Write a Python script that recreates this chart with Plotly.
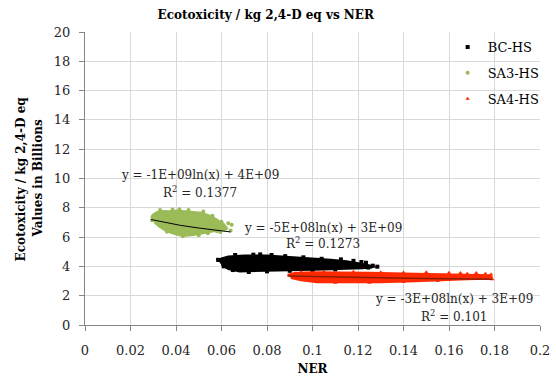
import plotly.graph_objects as go

# ---------------- data (values in billions) ----------------
# BC-HS cluster outline + edge / outlier points
bc_poly_x = [0.0585, 0.0600, 0.0630, 0.0700, 0.0800, 0.0900, 0.1000, 0.1080, 0.1150, 0.1200, 0.1240, 0.1265,
             0.1260, 0.1220, 0.1150, 0.1050, 0.0950, 0.0850, 0.0750, 0.0680, 0.0630, 0.0600]
bc_poly_y = [4.40, 4.55, 4.68, 4.75, 4.75, 4.66, 4.55, 4.45, 4.35, 4.25, 4.12, 4.00,
             3.92, 3.88, 3.82, 3.78, 3.75, 3.72, 3.64, 3.66, 3.82, 4.10]
bc_pts_x = [0.1235, 0.1265, 0.1285, 0.1245, 0.1180, 0.1125, 0.1215, 0.0660, 0.0740, 0.0820, 0.0880, 0.0960,
            0.1040, 0.0585, 0.0720, 0.0800, 0.0900, 0.1000, 0.1100, 0.0610, 0.0650, 0.0770]
bc_pts_y = [4.25, 4.05, 3.98, 3.92, 4.38, 4.48, 4.30, 4.78, 4.80, 4.78, 4.70, 4.62,
            4.52, 4.45, 3.62, 3.66, 3.70, 3.74, 3.79, 4.00, 3.75, 4.82]
bc_trend_x = [0.058, 0.070, 0.085, 0.100, 0.115, 0.129]
bc_trend_y = [4.35, 4.26, 4.16, 4.08, 4.01, 3.95]

# SA3-HS
sa3_poly_x = [0.0290, 0.0300, 0.0315, 0.0340, 0.0370, 0.0400, 0.0440, 0.0480, 0.0510, 0.0540, 0.0565, 0.0590,
              0.0610, 0.0620, 0.0615, 0.0590, 0.0560, 0.0530, 0.0500, 0.0470, 0.0440, 0.0410, 0.0380, 0.0350,
              0.0325, 0.0305]
sa3_poly_y = [7.30, 7.55, 7.70, 7.78, 7.76, 7.80, 7.76, 7.70, 7.66, 7.52, 7.35, 7.10,
              6.90, 6.70, 6.50, 6.46, 6.38, 6.28, 6.18, 6.12, 6.10, 6.15, 6.28, 6.48,
              6.72, 7.00]
sa3_pts_x = [0.0630, 0.0645, 0.0640, 0.0600, 0.0595, 0.0330, 0.0385, 0.0455, 0.0300, 0.0295, 0.0360,
             0.0430, 0.0500, 0.0540, 0.0580, 0.0520, 0.0560, 0.0415, 0.0620]
sa3_pts_y = [6.95, 6.85, 6.45, 7.05, 6.35, 7.85, 7.88, 7.85, 7.45, 7.15, 6.36,
             6.05, 6.12, 6.26, 6.40, 7.74, 7.45, 7.90, 6.60]
sa3_trend_x = [0.029, 0.035, 0.042, 0.050, 0.058, 0.064]
sa3_trend_y = [7.20, 7.00, 6.80, 6.62, 6.46, 6.35]

# SA4-HS
sa4_poly_x = [0.0890, 0.0920, 0.1000, 0.1100, 0.1250, 0.1400, 0.1550, 0.1650, 0.1720, 0.1780, 0.1790,
              0.1760, 0.1680, 0.1580, 0.1450, 0.1300, 0.1150, 0.1020, 0.0950, 0.0905]
sa4_poly_y = [3.42, 3.55, 3.60, 3.60, 3.56, 3.52, 3.48, 3.45, 3.42, 3.40, 3.25,
              3.15, 3.12, 3.05, 2.98, 2.92, 2.90, 2.92, 3.05, 3.20]
sa4_pts_x = [0.1720, 0.1760, 0.1785, 0.1790, 0.1700, 0.1650, 0.1600, 0.1500, 0.1750, 0.0950, 0.1050,
             0.1180, 0.1300, 0.1400, 0.1100, 0.1250, 0.1400, 0.1550, 0.1680]
sa4_pts_y = [3.55, 3.50, 3.45, 3.12, 3.20, 3.55, 3.57, 3.60, 3.30, 3.62, 3.64,
             3.63, 3.60, 3.58, 2.88, 2.88, 2.94, 3.00, 3.50]
sa4_trend_x = [0.089, 0.100, 0.115, 0.130, 0.150, 0.165, 0.179]
sa4_trend_y = [3.35, 3.31, 3.27, 3.22, 3.18, 3.15, 3.12]

x_ticks = [0, 0.02, 0.04, 0.06, 0.08, 0.1, 0.12, 0.14, 0.16, 0.18, 0.2]
x_tick_text = ["0", "0.02", "0.04", "0.06", "0.08", "0.1", "0.12", "0.14", "0.16", "0.18", "0.2"]
y_ticks = [0, 2, 4, 6, 8, 10, 12, 14, 16, 18, 20]

eq_text = ["y = -1E+09ln(x) + 4E+09", "R<sup>2</sup> = 0.1377",
           "y = -5E+08ln(x) + 3E+09", "R<sup>2</sup> = 0.1273",
           "y = -3E+08ln(x) + 3E+09", "R<sup>2</sup> = 0.101"]
eq_x = [0.0507, 0.0507, 0.1046, 0.1046, 0.1622, 0.1622]
eq_y = [10.24, 9.10, 6.62, 5.60, 1.75, 0.60]

# ---------------- styling ----------------
FONT = "DejaVu Serif"
BLACK = "#000000"
GREEN = "#9BBB59"
RED = "#FF2A00"
DARKRED = "#8E1B00"
TXT = "#262626"

fig = go.Figure()

def cluster(px, py, ptx, pty, color, name, symbol, group):
    fig.add_trace(go.Scatter(x=px, y=py, mode="lines", fill="toself", fillcolor=color,
                             line=dict(color=color, width=2), showlegend=False,
                             hoverinfo="skip", legendgroup=group))
    fig.add_trace(go.Scatter(x=ptx, y=pty, mode="markers", name=name, legendgroup=group,
                             marker=dict(color=color, size=4, symbol=symbol)))

cluster(bc_poly_x, bc_poly_y, bc_pts_x, bc_pts_y, BLACK, "BC-HS", "square", "g1")
cluster(sa3_poly_x, sa3_poly_y, sa3_pts_x, sa3_pts_y, GREEN, "SA3-HS", "circle", "g2")
cluster(sa4_poly_x, sa4_poly_y, sa4_pts_x, sa4_pts_y, RED, "SA4-HS", "triangle-up", "g3")

fig.add_trace(go.Scatter(x=sa3_trend_x, y=sa3_trend_y, mode="lines", line=dict(color=BLACK, width=1),
                         showlegend=False, hoverinfo="skip"))
fig.add_trace(go.Scatter(x=bc_trend_x, y=bc_trend_y, mode="lines", line=dict(color=BLACK, width=1),
                         showlegend=False, hoverinfo="skip"))
fig.add_trace(go.Scatter(x=sa4_trend_x, y=sa4_trend_y, mode="lines", line=dict(color=DARKRED, width=1.5),
                         showlegend=False, hoverinfo="skip"))

for t, x, y in zip(eq_text, eq_x, eq_y):
    fig.add_annotation(x=x, y=y, text=t, showarrow=False, xanchor="center", yanchor="middle",
                       font=dict(family=FONT, size=12, color=TXT))

# y-axis title (two lines)
fig.add_annotation(xref="paper", yref="paper", x=-0.1407, y=0.5, text="<b>Ecotoxicity / kg 2,4-D eq</b>",
                   textangle=-90, showarrow=False, xanchor="center", yanchor="middle",
                   font=dict(family=FONT, size=12, color=BLACK))
fig.add_annotation(xref="paper", yref="paper", x=-0.1033, y=0.5, text="<b>Values in Billions</b>",
                   textangle=-90, showarrow=False, xanchor="center", yanchor="middle",
                   font=dict(family=FONT, size=12, color=BLACK))

fig.update_layout(
    width=556, height=377,
    margin=dict(l=85, r=16, t=32, b=52, autoexpand=False),
    paper_bgcolor="white", plot_bgcolor="white",
    font=dict(family=FONT, size=13, color=TXT),
    title=dict(text="<b>Ecotoxicity / kg 2,4-D eq vs NER</b>", x=0.478, xref="container", xanchor="center",
               y=0.96, yref="container", yanchor="middle",
               font=dict(family=FONT, size=12, color=BLACK)),
    legend=dict(x=0.797, y=1.0, xanchor="left", yanchor="top", bgcolor="rgba(0,0,0,0)",
                font=dict(family=FONT, size=13, color=BLACK), tracegroupgap=6,
                traceorder="grouped", itemwidth=30),
    showlegend=True,
)
fig.update_xaxes(range=[0, 0.2], tickvals=x_ticks, ticktext=x_tick_text, showgrid=True, gridcolor="#D9D9D9",
                 gridwidth=1, zeroline=False, showline=True, linecolor="#868686", linewidth=1,
                 ticks="outside", ticklen=5, tickcolor="#868686", ticklabelstandoff=8,
                 title=dict(text="<b>NER</b>", font=dict(family=FONT, size=12, color=BLACK), standoff=8),
                 tickfont=dict(family=FONT, size=13, color=TXT))
fig.update_yaxes(range=[0, 20], tickvals=y_ticks, showgrid=True, gridcolor="#D9D9D9", gridwidth=1,
                 zeroline=False, showline=True, linecolor="#868686", linewidth=1,
                 ticks="outside", ticklen=5, tickcolor="#868686", ticklabelstandoff=6,
                 tickfont=dict(family=FONT, size=13, color=TXT))

fig.write_html("out.html")
